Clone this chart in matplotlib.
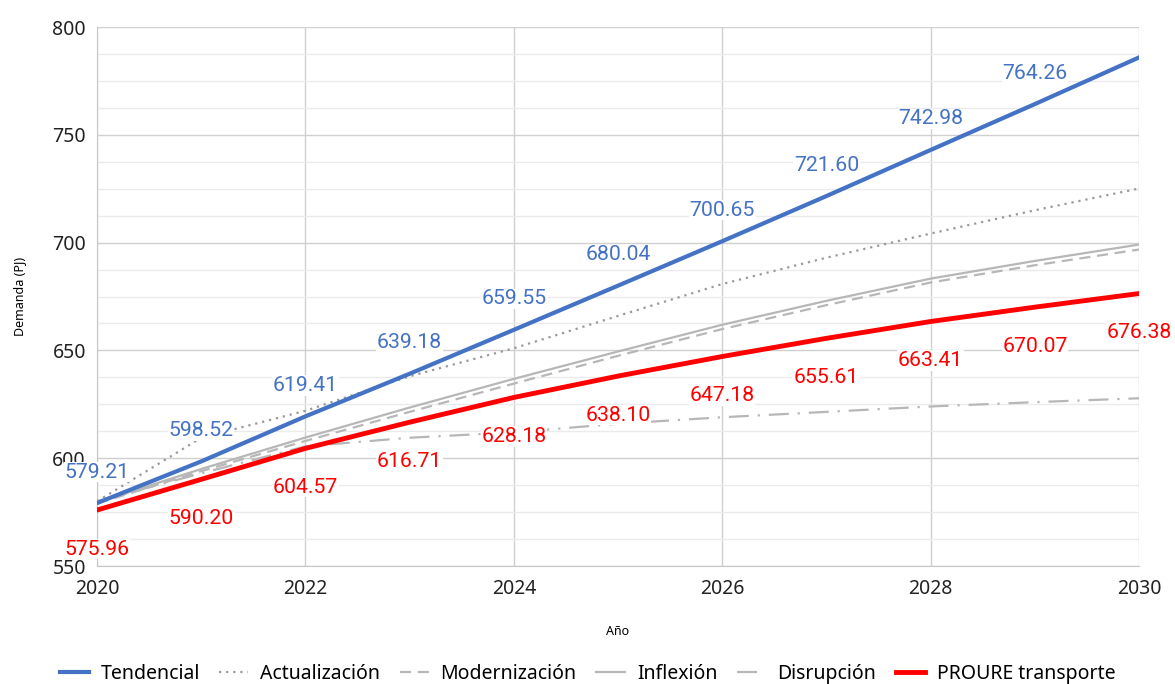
import matplotlib.pyplot as plt

years = [2020, 2021, 2022, 2023, 2024, 2025, 2026, 2027, 2028, 2029, 2030]

tendencial = [579.21, 598.52, 619.41, 639.18, 659.55, 680.04, 700.65, 721.60, 742.98, 764.26, 785.9]
actualizacion = [580.0, 609.5, 622.0, 638.0, 651.0, 666.0, 680.8, 693.0, 704.2, 715.0, 725.1]
modernizacion = [579.0, 594.0, 608.0, 621.5, 634.6, 647.5, 659.9, 671.0, 681.5, 689.5, 696.8]
inflexion = [579.5, 595.0, 609.6, 623.5, 636.8, 649.5, 661.9, 673.0, 683.3, 691.5, 699.1]
disrupcion = [580.0, 593.0, 605.5, 609.5, 612.0, 616.0, 619.0, 621.5, 624.0, 626.0, 627.8]
proure = [575.96, 590.20, 604.57, 616.71, 628.18, 638.10, 647.18, 655.61, 663.41, 670.07, 676.38]

blue = '#4472c4'
red = '#ff0000'

fig = plt.figure(figsize=(11.75, 6.84), dpi=100)
ax = fig.add_axes([0.0826, 0.1725, 0.8868, 0.788])

ax.plot(years, tendencial, color=blue, lw=3.0, label='Tendencial', zorder=5)
ax.plot(years, actualizacion, color='#999999', lw=1.6, ls=(0, (1, 2.2)), label='Actualización', zorder=4)
ax.plot(years, modernizacion, color='#b7b7b7', lw=1.6, ls=(0, (5, 3)), label='Modernización', zorder=4)
ax.plot(years, inflexion, color='#b7b7b7', lw=1.6, label='Inflexión', zorder=4)
ax.plot(years, disrupcion, color='#b7b7b7', lw=1.6, ls=(0, (9, 4, 1, 4)), label='Disrupción', zorder=4)
ax.plot(years, proure, color=red, lw=3.5, label='PROURE transporte', zorder=6)

# data labels: blue above the line, red below
box = dict(facecolor='white', edgecolor='none', pad=0.5)
for x, v in zip(years[:-1], tendencial[:-1]):
    ax.annotate(f'{v:.2f}', (x, v), xytext=(0, 31), textcoords='offset pixels',
                ha='center', va='center', color=blue, fontsize=15.3,
                family='Roboto', bbox=box, zorder=7, annotation_clip=False)
for x, v in zip(years, proure):
    ax.annotate(f'{v:.2f}', (x, v), xytext=(0, -39), textcoords='offset pixels',
                ha='center', va='center', color=red, fontsize=15.3,
                family='Roboto', bbox=box, zorder=7, annotation_clip=False)

ax.set_xlim(2020, 2030)
ax.set_ylim(550, 800)
ax.set_xticks(range(2020, 2031, 2))
ax.set_yticks(range(550, 801, 50))
ax.set_yticks([550 + 12.5 * i for i in range(21)], minor=True)
ax.tick_params(axis='y', which='minor', length=0)
ax.tick_params(length=0, labelsize=14, colors='#222222')
ax.tick_params(axis='x', pad=9)
ax.tick_params(axis='y', pad=8)
for lbl in ax.get_xticklabels() + ax.get_yticklabels():
    lbl.set_family('Noto Sans')
ax.grid(True, which='major', color='#d0d0d0', lw=1.0)
ax.grid(True, which='minor', axis='y', color='#ebebeb', lw=1.0)
ax.set_axisbelow(True)
for s in ['top', 'right']:
    ax.spines[s].set_visible(False)
for s in ['left', 'bottom']:
    ax.spines[s].set_color('#c8c8c8')

ax.set_xlabel('Año', fontsize=9, family='Noto Sans', labelpad=19)
ax.set_ylabel('Demanda (PJ)', fontsize=9, family='Noto Sans', labelpad=19)

fig.legend(loc='lower center', ncol=6, bbox_to_anchor=(0.5, -0.025), frameon=False,
           prop={'family': 'Noto Sans', 'size': 14}, handlelength=1.5,
           columnspacing=1.0, handletextpad=0.6)

fig.savefig('out.png', dpi=100)
